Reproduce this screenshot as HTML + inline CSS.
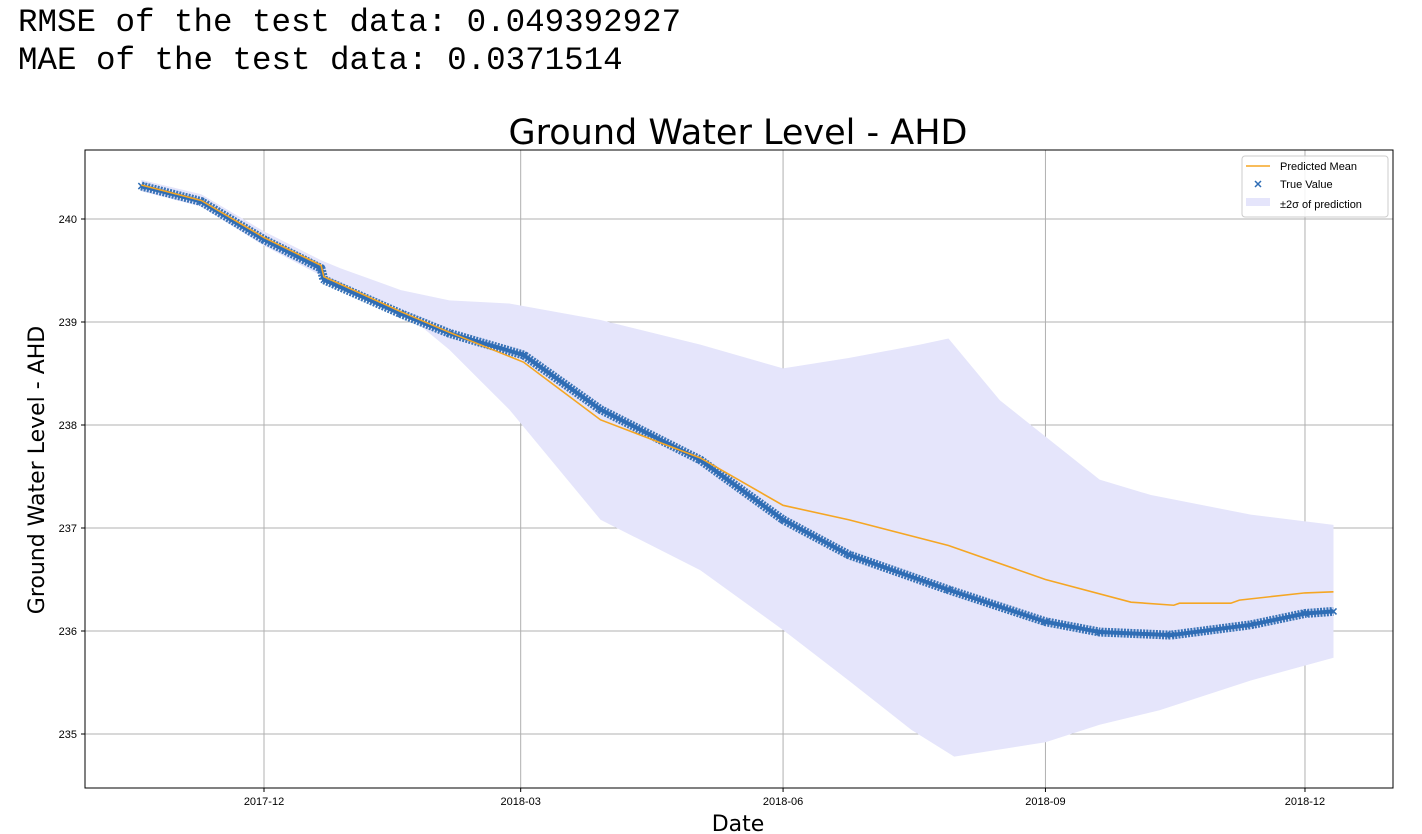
<!DOCTYPE html>
<html><head><meta charset="utf-8"><style>
body{margin:0;background:#fff;width:1422px;height:834px;overflow:hidden;font-family:"Liberation Sans","DejaVu Sans",sans-serif}
.hdr{position:absolute;left:18px;font-family:"Liberation Mono","DejaVu Sans Mono",monospace;font-size:32.5px;color:#000;white-space:pre}
</style></head><body>
<div class="hdr" style="top:4px">RMSE of the test data: 0.049392927</div>
<div class="hdr" style="top:42px">MAE of the test data: 0.0371514</div>
<svg id="chart" width="1422" height="834" style="position:absolute;left:0;top:0"></svg>
<script>
// days since 2017-12-01
const trueDays=[-43,-22,0,20,21,48,65,91,118,153,182,205,240,274,293,318,346,365,375];
const trueVals=[240.32,240.17,239.80,239.52,239.41,239.08,238.89,238.68,238.15,237.66,237.08,236.74,236.40,236.09,235.99,235.96,236.06,236.17,236.19];
const predDays=[-43,-22,0,20,21,48,65,91,118,153,182,205,240,274,304,319,321,339,342,365,375];
const predVals=[240.33,240.18,239.82,239.55,239.44,239.10,238.90,238.61,238.05,237.68,237.22,237.08,236.83,236.50,236.28,236.25,236.27,236.27,236.30,236.37,236.38];
const upDays=[-43,-22,0,20,27,48,65,86,118,153,182,205,230,240,258,293,311,346,375];
const upVals=[240.38,240.24,239.88,239.60,239.52,239.31,239.21,239.18,239.02,238.78,238.55,238.65,238.78,238.84,238.24,237.47,237.32,237.13,237.03];
const loDays=[-43,-22,0,20,48,65,86,118,153,182,205,227,242,274,293,314,346,375];
const loVals=[240.27,240.12,239.74,239.45,239.12,238.73,238.15,237.08,236.59,236.01,235.52,235.04,234.78,234.92,235.09,235.23,235.52,235.74];
const yTicks=[235,236,237,238,239,240];
const xTickDays=[0,90,182,274,365];
const xTickLabels=["2017-12","2018-03","2018-06","2018-09","2018-12"];

const L=85,R=1393,T=150,B=788;
const X=d=>264+d*2.852;
const Y=v=>219+(240-v)*103;
const NS="http://www.w3.org/2000/svg";
const svg=document.getElementById('chart');
function mk(tag,attrs,parent){const e=document.createElementNS(NS,tag);for(const k in attrs)e.setAttribute(k,attrs[k]);(parent||svg).appendChild(e);return e;}
yTicks.forEach(v=>{const g=mk('line',{x1:L,x2:R,y1:Y(v),y2:Y(v),stroke:'#b0b0b0','stroke-width':1});


mk('line',{x1:L-4,x2:L,y1:Y(v),y2:Y(v),stroke:'#000'});
const t=mk('text',{x:L-8,y:Y(v)+4,'text-anchor':'end','font-size':11,fill:'#000'});t.textContent=v;

});
xTickDays.forEach((d,i)=>{const g=mk('line',{x1:X(d),x2:X(d),y1:T,y2:B,stroke:'#b0b0b0','stroke-width':1});


mk('line',{x1:X(d),x2:X(d),y1:B,y2:B+4,stroke:'#000'});
const t=mk('text',{x:X(d),y:B+17,'text-anchor':'middle','font-size':11,fill:'#000'});t.textContent=xTickLabels[i];

});
let pts=upDays.map((d,i)=>X(d)+','+Y(upVals[i]));
for(let i=loDays.length-1;i>=0;i--)pts.push(X(loDays[i])+','+Y(loVals[i]));
const band=mk('polygon',{points:pts.join(' '),fill:'#e5e5fb',stroke:'none'});


const tp=trueDays.map((d,i)=>X(d)+','+Y(trueVals[i])).join(' ');
const tl=mk('polyline',{points:tp,fill:'none',stroke:'#3b74b7','stroke-width':9,'stroke-linejoin':'round','stroke-dasharray':'2 1.2'});


const tl2=mk('polyline',{points:tp,fill:'none',stroke:'#2f6db5','stroke-width':4,'stroke-linejoin':'round'});


trueDays.forEach((d,i)=>{const x=X(d),y=Y(trueVals[i]);const m=mk('path',{d:`M${x-3},${y-3}L${x+3},${y+3}M${x-3},${y+3}L${x+3},${y-3}`,stroke:'#2f6db5','stroke-width':1.5});

});
const pl=mk('polyline',{points:predDays.map((d,i)=>X(d)+','+Y(predVals[i])).join(' '),fill:'none',stroke:'#f5a623','stroke-width':1.6});


const fr=mk('rect',{x:L,y:T,width:R-L,height:B-T,fill:'none',stroke:'#000','stroke-width':1});


let t=mk('text',{x:738,y:144,'text-anchor':'middle','font-size':35,fill:'#000','font-family':'DejaVu Sans, sans-serif'});t.textContent='Ground Water Level - AHD';


t=mk('text',{x:738,y:831,'text-anchor':'middle','font-size':22,fill:'#000','font-family':'DejaVu Sans, sans-serif'});t.textContent='Date';


t=mk('text',{x:0,y:0,'text-anchor':'middle','font-size':22,fill:'#000','font-family':'DejaVu Sans, sans-serif',transform:'translate(44,470) rotate(-90)'});t.textContent='Ground Water Level - AHD';


const lg=mk('g',{});


mk('rect',{x:1242,y:156,width:146,height:61,rx:3,fill:'#fff','fill-opacity':0.85,stroke:'#ccc'},lg);
mk('line',{x1:1246,x2:1270,y1:166,y2:166,stroke:'#f5a623','stroke-width':1.6},lg);
mk('path',{d:'M1255,181L1261,187M1255,187L1261,181',stroke:'#2f6db5','stroke-width':1.5},lg);
mk('rect',{x:1246,y:198,width:24,height:8,fill:'#e5e5fb'},lg);
[['Predicted Mean',170],['True Value',188],['±2σ of prediction',208]].forEach(([s,y])=>{const e=mk('text',{x:1280,y:y,'font-size':11,fill:'#000'},lg);e.textContent=s;

});
</script>
</body></html>
